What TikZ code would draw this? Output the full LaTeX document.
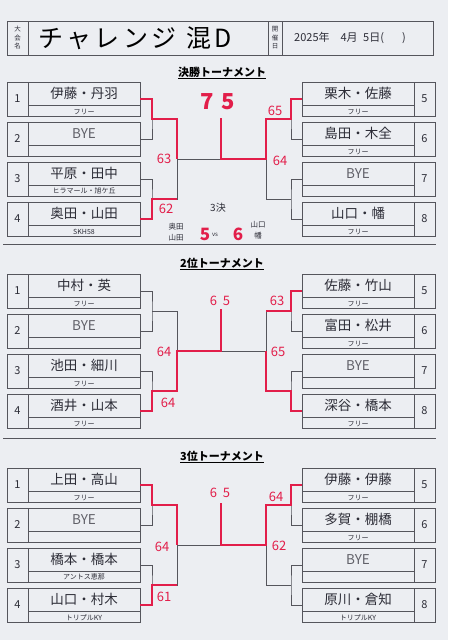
\documentclass[tikz,border=0pt]{standalone}
\usepackage{fontspec}
\setmainfont{Noto Sans CJK JP}
\usepackage{xcolor}
\usetikzlibrary{positioning}

\definecolor{paper}{RGB}{236,238,242}
\definecolor{ink}{RGB}{226,30,74}
\definecolor{pen}{RGB}{45,45,55}
\definecolor{rule}{RGB}{85,85,92}

\begin{document}
\begin{tikzpicture}[x=1pt, y=-1pt,
  entry/.style={draw=rule, line width=0.7pt, minimum width=112, minimum height=34,
                inner sep=0pt, outer sep=0pt, text height=9pt, text depth=11pt,
                text=pen, font=\fontsize{13.5}{13.5}\selectfont,
                path picture={\draw[rule, line width=0.7pt]
                  ([yshift=11pt]path picture bounding box.south west) --
                  ([yshift=11pt]path picture bounding box.south east);}},
  bye/.style={entry, text=pen!75},
  seed/.style={draw=rule, line width=0.7pt, minimum width=21, minimum height=34,
               inner sep=0pt, outer sep=0pt, text=pen, font=\fontsize{11}{11}\selectfont},
  club/.style={anchor=south, inner sep=1.5pt, text=pen, font=\fontsize{7}{7}\selectfont},
  hcell/.style={draw=rule, line width=0.7pt, minimum height=34, inner sep=0pt,
                align=center, text=pen, font=\fontsize{6.5}{8.5}\selectfont},
  ttl/.style={text=black, font=\bfseries\fontsize{11}{11}\selectfont},
  bline/.style={rule, line width=0.7pt},
  win/.style={ink, line width=2.6pt},
  score/.style={text=ink, inner sep=0pt, font=\fontsize{13}{13}\selectfont},
  memo/.style={text=pen, inner sep=0pt, align=center, font=\fontsize{7.5}{11}\selectfont},
]
\fill[paper] (0,0) rectangle (448,640);

% header
\node[hcell, minimum width=21]  (hk) at (17.5,38)  {大\\会\\名};
\node[hcell, minimum width=240] (ht) at (148,38)   {};
\node[hcell, minimum width=14]  (hd) at (275,38)   {開\\催\\日};
\node[hcell, minimum width=151] (hv) at (357.5,38) {};
\node[anchor=west, text=black, font=\fontsize{25}{25}\selectfont\addfontfeatures{LetterSpace=14}]
  (htt) at ([xshift=7pt]ht.west) {チャレンジ 混D};
\node[anchor=west, text=pen, font=\fontsize{11}{11}\selectfont]
  (hdv) at ([xshift=9pt]hv.west) {2025年\quad 4月\enspace 5日(\hspace{18pt})};

% 決勝トーナメント
\node[ttl] (fttl) at (222,73) {\underline{決勝トーナメント}};
\node[entry] (f1) at (84,99)   {伊藤・丹羽}; \node[seed, left=0pt of f1]  (f1n) {1}; \node[club] (f1c) at (f1.south) {フリー};
\node[bye]   (f2) at (84,139)  {BYE};        \node[seed, left=0pt of f2]  (f2n) {2};
\node[entry] (f3) at (84,179)  {平原・田中}; \node[seed, left=0pt of f3]  (f3n) {3}; \node[club] (f3c) at (f3.south) {ヒラマール・旭ケ丘};
\node[entry] (f4) at (84,219)  {奥田・山田}; \node[seed, left=0pt of f4]  (f4n) {4}; \node[club] (f4c) at (f4.south) {SKH58};
\node[entry] (f5) at (358,99)  {栗木・佐藤}; \node[seed, right=0pt of f5] (f5n) {5}; \node[club] (f5c) at (f5.south) {フリー};
\node[entry] (f6) at (358,139) {島田・木全}; \node[seed, right=0pt of f6] (f6n) {6}; \node[club] (f6c) at (f6.south) {フリー};
\node[bye]   (f7) at (358,179) {BYE};        \node[seed, right=0pt of f7] (f7n) {7};
\node[entry] (f8) at (358,219) {山口・幡};   \node[seed, right=0pt of f8] (f8n) {8}; \node[club] (f8c) at (f8.south) {フリー};

\coordinate (fa) at (152,119); \coordinate (fb) at (152,199);
\coordinate (fc) at (177,119); \coordinate (fd) at (177,199);
\coordinate (fe) at (291,119); \coordinate (ff) at (291,199);
\coordinate (fg) at (266,119); \coordinate (fh) at (266,199);
\coordinate (fl) at (177,159); \coordinate (fr) at (266,159);
\coordinate (fm) at (221,159); \coordinate (fw) at (221,118);

\draw[bline] (f1.east) -| (fa) |- (f2.east);
\draw[bline] (f3.east) -| (fb) |- (f4.east);
\draw[bline] (fa) -- (fc) -- (fd) -- (fb);
\draw[bline] (f5.west) -| (fe) |- (f6.west);
\draw[bline] (f7.west) -| (ff) |- (f8.west);
\draw[bline] (fe) -- (fg) -- (fh) -- (ff);
\draw[bline] (fl) -- (fr);

\draw[win] (f1.east) -| (fa) -- (fc) -- (fl);
\draw[win] (f4.east) -| (fb) -- (fd);
\draw[win] (f5.west) -| (fe) -- (fg) -- (fr) -- (fm) -- (fw);

\node[score, font=\bfseries\fontsize{22}{22}\selectfont] (fs0) at (218,102) {7\hspace{8pt}5};
\node[score] (fs1) at (164,159) {63};
\node[score] (fs2) at (166,209) {62};
\node[score] (fs3) at (275,111) {65};
\node[score] (fs4) at (280,161) {64};

\node[memo, font=\fontsize{10}{10}\selectfont] (f3k) at (218,208) {3決};
\node[memo] (fq1) at (176,232) {奥田\\山田};
\node[score, font=\bfseries\fontsize{17}{17}\selectfont] (fq2) at (205,234) {5};
\node[memo, font=\fontsize{6}{6}\selectfont] (fq3) at (215,235) {vs};
\node[score, font=\bfseries\fontsize{17}{17}\selectfont] (fq4) at (238,234) {6};
\node[memo] (fq5) at (258,230) {山口\\幡};

\draw[bline] (3,244) -- (436,244);

% 2位トーナメント
\node[ttl] (sttl) at (222,264) {\underline{2位トーナメント}};
\node[entry] (s1) at (84,291)  {中村・英};   \node[seed, left=0pt of s1]  (s1n) {1}; \node[club] (s1c) at (s1.south) {フリー};
\node[bye]   (s2) at (84,331)  {BYE};        \node[seed, left=0pt of s2]  (s2n) {2};
\node[entry] (s3) at (84,371)  {池田・細川}; \node[seed, left=0pt of s3]  (s3n) {3}; \node[club] (s3c) at (s3.south) {フリー};
\node[entry] (s4) at (84,411)  {酒井・山本}; \node[seed, left=0pt of s4]  (s4n) {4}; \node[club] (s4c) at (s4.south) {フリー};
\node[entry] (s5) at (358,291) {佐藤・竹山}; \node[seed, right=0pt of s5] (s5n) {5}; \node[club] (s5c) at (s5.south) {フリー};
\node[entry] (s6) at (358,331) {富田・松井}; \node[seed, right=0pt of s6] (s6n) {6}; \node[club] (s6c) at (s6.south) {フリー};
\node[bye]   (s7) at (358,371) {BYE};        \node[seed, right=0pt of s7] (s7n) {7};
\node[entry] (s8) at (358,411) {深谷・橋本}; \node[seed, right=0pt of s8] (s8n) {8}; \node[club] (s8c) at (s8.south) {フリー};

\coordinate (sa) at (152,311); \coordinate (sb) at (152,391);
\coordinate (sc) at (177,311); \coordinate (sd) at (177,391);
\coordinate (se) at (291,311); \coordinate (sf) at (291,391);
\coordinate (sg) at (266,311); \coordinate (sh) at (266,391);
\coordinate (sl) at (177,351); \coordinate (sr) at (266,351);
\coordinate (sm) at (221,351); \coordinate (sw) at (221,309);

\draw[bline] (s1.east) -| (sa) |- (s2.east);
\draw[bline] (s3.east) -| (sb) |- (s4.east);
\draw[bline] (sa) -- (sc) -- (sd) -- (sb);
\draw[bline] (s5.west) -| (se) |- (s6.west);
\draw[bline] (s7.west) -| (sf) |- (s8.west);
\draw[bline] (se) -- (sg) -- (sh) -- (sf);
\draw[bline] (sl) -- (sr);

\draw[win] (s4.east) -| (sb) -- (sd) -- (sl) -- (sm) -- (sw);
\draw[win] (s5.west) -| (se) -- (sg);
\draw[win] (s8.west) -| (sf) -- (sh) -- (sr);

\node[score] (ss0) at (220,301) {6\hspace{6pt}5};
\node[score] (ss1) at (164,352) {64};
\node[score] (ss2) at (168,403) {64};
\node[score] (ss3) at (277,301) {63};
\node[score] (ss4) at (278,352) {65};

\draw[bline] (3,438) -- (436,438);

% 3位トーナメント
\node[ttl] (tttl) at (222,457) {\underline{3位トーナメント}};
\node[entry] (t1) at (84,485)  {上田・高山}; \node[seed, left=0pt of t1]  (t1n) {1}; \node[club] (t1c) at (t1.south) {フリー};
\node[bye]   (t2) at (84,525)  {BYE};        \node[seed, left=0pt of t2]  (t2n) {2};
\node[entry] (t3) at (84,565)  {橋本・橋本}; \node[seed, left=0pt of t3]  (t3n) {3}; \node[club] (t3c) at (t3.south) {アントス恵那};
\node[entry] (t4) at (84,605)  {山口・村木}; \node[seed, left=0pt of t4]  (t4n) {4}; \node[club] (t4c) at (t4.south) {トリプルKY};
\node[entry] (t5) at (358,485) {伊藤・伊藤}; \node[seed, right=0pt of t5] (t5n) {5}; \node[club] (t5c) at (t5.south) {フリー};
\node[entry] (t6) at (358,525) {多賀・棚橋}; \node[seed, right=0pt of t6] (t6n) {6}; \node[club] (t6c) at (t6.south) {フリー};
\node[bye]   (t7) at (358,565) {BYE};        \node[seed, right=0pt of t7] (t7n) {7};
\node[entry] (t8) at (358,605) {原川・倉知}; \node[seed, right=0pt of t8] (t8n) {8}; \node[club] (t8c) at (t8.south) {トリプルKY};

\coordinate (ta) at (152,505); \coordinate (tb) at (152,585);
\coordinate (tc) at (177,505); \coordinate (td) at (177,585);
\coordinate (te) at (291,505); \coordinate (tf) at (291,585);
\coordinate (tg) at (266,505); \coordinate (th) at (266,585);
\coordinate (tl) at (177,545); \coordinate (tr) at (266,545);
\coordinate (tm) at (221,545); \coordinate (tw) at (221,503);

\draw[bline] (t1.east) -| (ta) |- (t2.east);
\draw[bline] (t3.east) -| (tb) |- (t4.east);
\draw[bline] (ta) -- (tc) -- (td) -- (tb);
\draw[bline] (t5.west) -| (te) |- (t6.west);
\draw[bline] (t7.west) -| (tf) |- (t8.west);
\draw[bline] (te) -- (tg) -- (th) -- (tf);
\draw[bline] (tl) -- (tr);

\draw[win] (t1.east) -| (ta) -- (tc) -- (tl);
\draw[win] (t4.east) -| (tb) -- (td);
\draw[win] (t5.west) -| (te) -- (tg) -- (tr) -- (tm) -- (tw);

\node[score] (ts0) at (220,493) {6\hspace{6pt}5};
\node[score] (ts1) at (162,547) {64};
\node[score] (ts2) at (164,597) {61};
\node[score] (ts3) at (276,497) {64};
\node[score] (ts4) at (279,546) {62};
\end{tikzpicture}
\end{document}
